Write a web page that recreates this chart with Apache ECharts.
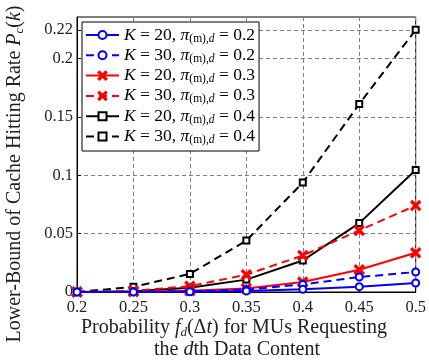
<!DOCTYPE html>
<html><head><meta charset="utf-8">
<script src="https://cdn.jsdelivr.net/npm/echarts@6/dist/echarts.min.js"></script>
<style>html,body{margin:0;padding:0;background:#fff}#c{width:429px;height:364px}</style>
</head><body><div id="c"></div>
<script>
const xValues = [0.2, 0.25, 0.3, 0.35, 0.4, 0.45, 0.5];
const k20p02 = [0, 0.0001, 0.0002, 0.0009, 0.0023, 0.0046, 0.0077];
const k30p02 = [0, 0.0001, 0.0005, 0.002, 0.0065, 0.0128, 0.0171];
const k20p03 = [0, 0.0002, 0.001, 0.003, 0.0085, 0.0191, 0.0336];
const k30p03 = [0, 0.001, 0.005, 0.0148, 0.0313, 0.0527, 0.074];
const k20p04 = [0, 0.0007, 0.0036, 0.0106, 0.027, 0.059, 0.1045];
const k30p04 = [0, 0.0044, 0.0155, 0.044, 0.0937, 0.161, 0.2245];
const yTicks = [0, 0.05, 0.1, 0.15, 0.2, 0.2245];
const legendK = ['20', '30', '20', '30', '20', '30'];
const legendPi = ['0.2', '0.2', '0.3', '0.3', '0.4', '0.4'];

const FONT = 'Liberation Serif';
const crossPath = 'path://M0,1.2 L1.2,0 L5,3.8 L8.8,0 L10,1.2 L6.2,5 L10,8.8 L8.8,10 L5,6.2 L1.2,10 L0,8.8 L3.8,5 Z';
const seriesDefs = [
  {data: k20p02, color: '#0000ff', type: 'solid', symbol: 'emptyCircle', size: 7},
  {data: k30p02, color: '#0000ff', type: 'dashed', symbol: 'emptyCircle', size: 7},
  {data: k20p03, color: '#ff0000', type: 'solid', symbol: crossPath, size: 9},
  {data: k30p03, color: '#ff0000', type: 'dashed', symbol: crossPath, size: 9},
  {data: k20p04, color: '#000000', type: 'solid', symbol: 'emptyRect', size: 6},
  {data: k30p04, color: '#000000', type: 'dashed', symbol: 'emptyRect', size: 6}
];
const names = legendK.map((k, i) => 'K' + k + 'p' + legendPi[i]);
const series = seriesDefs.map((d, i) => ({
  name: names[i],
  type: 'line',
  data: xValues.map((x, j) => [x, d.data[j]]),
  symbol: d.symbol,
  symbolSize: d.size,
  showAllSymbol: true,
  lineStyle: {color: d.color, width: 2, type: d.type === 'dashed' ? [8, 5] : 'solid'},
  itemStyle: {color: d.color, borderColor: d.color, borderWidth: 1.8},
  emphasis: {disabled: true},
  animation: false,
  z: 10 - i
}));

const sub = {fontStyle: 'italic', fontFamily: FONT, fontSize: 13, padding: [9, 0, 0, 0]};
const chart = echarts.init(document.getElementById('c'), null, {renderer: 'canvas'});
const gridLine = {show: true, lineStyle: {color: '#808080', type: [4, 3], width: 1}};
chart.setOption({
  animation: false,
  grid: {left: 77, right: 10, top: 17, bottom: 72, show: true, borderColor: '#000', borderWidth: 1, backgroundColor: 'transparent'},
  xAxis: {
    type: 'value', min: 0.2, max: 0.5, interval: 0.05,
    axisLine: {show: true, onZero: false, lineStyle: {color: '#000'}},
    axisTick: {show: true, inside: true, length: 4, lineStyle: {color: '#000'}},
    axisLabel: {color: '#222', fontFamily: FONT, fontSize: 16.5, margin: 7,
      formatter: v => String(Math.round(v * 100) / 100)},
    splitLine: gridLine
  },
  yAxis: {
    type: 'value', min: 0, max: 0.2355,
    axisLine: {show: true, lineStyle: {color: '#000'}},
    axisTick: {show: true, inside: true, length: 4, lineStyle: {color: '#000'}, customValues: yTicks},
    axisLabel: {color: '#222', fontFamily: FONT, fontSize: 16.5, margin: 4, customValues: yTicks,
      formatter: v => v === 0 ? '0' : (v > 0.21 ? '0.22' : String(Math.round(v * 100) / 100))},
    splitLine: gridLine
  },
  legend: {
    orient: 'vertical', left: 82, top: 22,
    backgroundColor: '#fff', borderColor: '#000', borderWidth: 1,
    padding: [4, 4, 5, 3], itemGap: 1.8, itemWidth: 33, itemHeight: 10,
    data: names,
    formatter: function (name) {
      const i = names.indexOf(name);
      return '{i|K} = ' + legendK[i] + ', {i|π}{s|(m),}{si|d} = ' + legendPi[i];
    },
    textStyle: {fontFamily: FONT, fontSize: 17.5, color: '#000',
      rich: {
        i: {fontFamily: FONT, fontStyle: 'italic', fontSize: 17.5},
        s: {fontFamily: FONT, fontSize: 11.5, padding: [7, 0, 0, 0]},
        si: {fontFamily: FONT, fontStyle: 'italic', fontSize: 11.5, padding: [7, 0, 0, 0]}
      }}
  },
  series: series,
  graphic: [
    {type: 'text', x: 234, y: 328, style: {
      text: 'Probability {i|f}{s|d}(Δ{i|t}) for MUs Requesting', fontFamily: FONT, fontSize: 20, fill: '#222',
      align: 'center', verticalAlign: 'middle',
      rich: {i: {fontStyle: 'italic', fontFamily: FONT, fontSize: 20}, s: sub}}},
    {type: 'text', x: 237, y: 350, style: {
      text: 'the {i|d}th Data Content', fontFamily: FONT, fontSize: 20, fill: '#222',
      align: 'center', verticalAlign: 'middle',
      rich: {i: {fontStyle: 'italic', fontFamily: FONT, fontSize: 20}}}},
    {type: 'text', x: 15, y: 174, rotation: Math.PI / 2, style: {
      text: 'Lower-Bound of Cache Hitting Rate {i|P}{s|c}({i|k})', fontFamily: FONT, fontSize: 20, fill: '#222',
      align: 'center', verticalAlign: 'middle',
      rich: {i: {fontStyle: 'italic', fontFamily: FONT, fontSize: 20}, s: sub}}}
  ]
});
</script></body></html>
